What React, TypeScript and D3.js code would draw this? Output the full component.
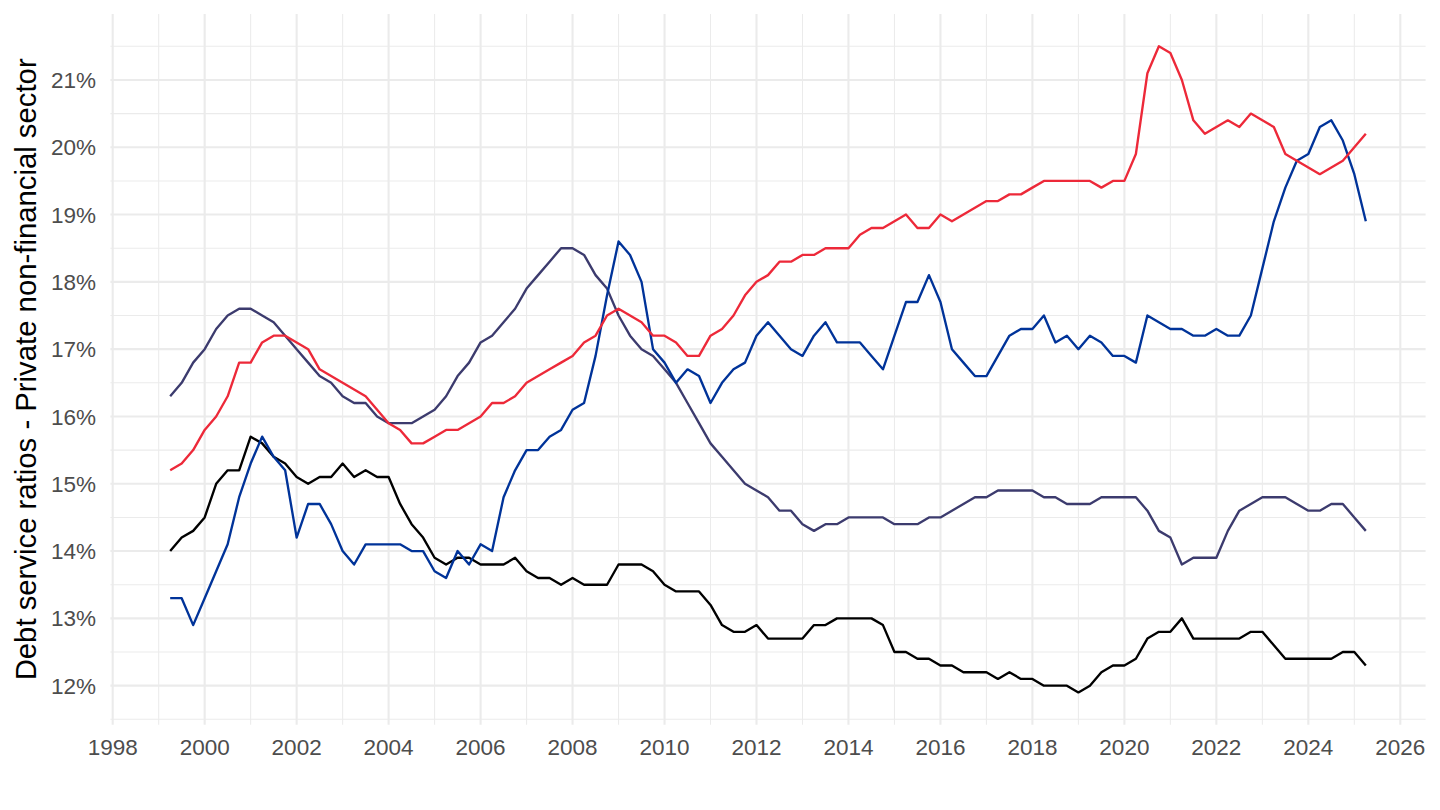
import * as d3 from "d3";
import type React from "react";

// quarterly observations, 1999Q1 .. 2025Q1 (plotted at end of quarter)
const firstQuarter = 1999.25;

const seriesRed = [
	15.2, 15.3, 15.5, 15.8, 16.0, 16.3, 16.8, 16.8, 17.1, 17.2, 17.2, 17.1, 17.0, 16.7, 16.6, 16.5, 16.4, 16.3, 16.1, 15.9,
	15.8, 15.6, 15.6, 15.7, 15.8, 15.8, 15.9, 16.0, 16.2, 16.2, 16.3, 16.5, 16.6, 16.7, 16.8, 16.9, 17.1, 17.2, 17.5, 17.6,
	17.5, 17.4, 17.2, 17.2, 17.1, 16.9, 16.9, 17.2, 17.3, 17.5, 17.8, 18.0, 18.1, 18.3, 18.3, 18.4, 18.4, 18.5, 18.5, 18.5,
	18.7, 18.8, 18.8, 18.9, 19.0, 18.8, 18.8, 19.0, 18.9, 19.0, 19.1, 19.2, 19.2, 19.3, 19.3, 19.4, 19.5, 19.5, 19.5, 19.5,
	19.5, 19.4, 19.5, 19.5, 19.9, 21.1, 21.5, 21.4, 21.0, 20.4, 20.2, 20.3, 20.4, 20.3, 20.5, 20.4, 20.3, 19.9, 19.8, 19.7,
	19.6, 19.7, 19.8, 20.0, 20.2,
];

const seriesBlue = [
	13.3, 13.3, 12.9, 13.3, 13.7, 14.1, 14.8, 15.3, 15.7, 15.4, 15.2, 14.2, 14.7, 14.7, 14.4, 14.0, 13.8, 14.1, 14.1, 14.1,
	14.1, 14.0, 14.0, 13.7, 13.6, 14.0, 13.8, 14.1, 14.0, 14.8, 15.2, 15.5, 15.5, 15.7, 15.8, 16.1, 16.2, 16.9, 17.8, 18.6,
	18.4, 18.0, 17.0, 16.8, 16.5, 16.7, 16.6, 16.2, 16.5, 16.7, 16.8, 17.2, 17.4, 17.2, 17.0, 16.9, 17.2, 17.4, 17.1, 17.1,
	17.1, 16.9, 16.7, 17.2, 17.7, 17.7, 18.1, 17.7, 17.0, 16.8, 16.6, 16.6, 16.9, 17.2, 17.3, 17.3, 17.5, 17.1, 17.2, 17.0,
	17.2, 17.1, 16.9, 16.9, 16.8, 17.5, 17.4, 17.3, 17.3, 17.2, 17.2, 17.3, 17.2, 17.2, 17.5, 18.2, 18.9, 19.4, 19.8, 19.9,
	20.3, 20.4, 20.1, 19.6, 18.9,
];

const seriesPurple = [
	16.3, 16.5, 16.8, 17.0, 17.3, 17.5, 17.6, 17.6, 17.5, 17.4, 17.2, 17.0, 16.8, 16.6, 16.5, 16.3, 16.2, 16.2, 16.0, 15.9,
	15.9, 15.9, 16.0, 16.1, 16.3, 16.6, 16.8, 17.1, 17.2, 17.4, 17.6, 17.9, 18.1, 18.3, 18.5, 18.5, 18.4, 18.1, 17.9, 17.5,
	17.2, 17.0, 16.9, 16.7, 16.5, 16.2, 15.9, 15.6, 15.4, 15.2, 15.0, 14.9, 14.8, 14.6, 14.6, 14.4, 14.3, 14.4, 14.4, 14.5,
	14.5, 14.5, 14.5, 14.4, 14.4, 14.4, 14.5, 14.5, 14.6, 14.7, 14.8, 14.8, 14.9, 14.9, 14.9, 14.9, 14.8, 14.8, 14.7, 14.7,
	14.7, 14.8, 14.8, 14.8, 14.8, 14.6, 14.3, 14.2, 13.8, 13.9, 13.9, 13.9, 14.3, 14.6, 14.7, 14.8, 14.8, 14.8, 14.7, 14.6,
	14.6, 14.7, 14.7, 14.5, 14.3,
];

const seriesBlack = [
	14.0, 14.2, 14.3, 14.5, 15.0, 15.2, 15.2, 15.7, 15.6, 15.4, 15.3, 15.1, 15.0, 15.1, 15.1, 15.3, 15.1, 15.2, 15.1, 15.1,
	14.7, 14.4, 14.2, 13.9, 13.8, 13.9, 13.9, 13.8, 13.8, 13.8, 13.9, 13.7, 13.6, 13.6, 13.5, 13.6, 13.5, 13.5, 13.5, 13.8,
	13.8, 13.8, 13.7, 13.5, 13.4, 13.4, 13.4, 13.2, 12.9, 12.8, 12.8, 12.9, 12.7, 12.7, 12.7, 12.7, 12.9, 12.9, 13.0, 13.0,
	13.0, 13.0, 12.9, 12.5, 12.5, 12.4, 12.4, 12.3, 12.3, 12.2, 12.2, 12.2, 12.1, 12.2, 12.1, 12.1, 12.0, 12.0, 12.0, 11.9,
	12.0, 12.2, 12.3, 12.3, 12.4, 12.7, 12.8, 12.8, 13.0, 12.7, 12.7, 12.7, 12.7, 12.7, 12.8, 12.8, 12.6, 12.4, 12.4, 12.4,
	12.4, 12.4, 12.5, 12.5, 12.3,
];

const xTicks = [1998, 2000, 2002, 2004, 2006, 2008, 2010, 2012, 2014, 2016, 2018, 2020, 2022, 2024, 2026];
const xMinor = [1999, 2001, 2003, 2005, 2007, 2009, 2011, 2013, 2015, 2017, 2019, 2021, 2023, 2025];
const yTicks = [12, 13, 14, 15, 16, 17, 18, 19, 20, 21];
const yMinor = [11.5, 12.5, 13.5, 14.5, 15.5, 16.5, 17.5, 18.5, 19.5, 20.5, 21.5];

const yTitle = "Debt service ratios - Private non-financial sector";

const lines = [
	{ values: seriesPurple, color: "#3C3B6E" },
	{ values: seriesBlack, color: "#000000" },
	{ values: seriesBlue, color: "#003399" },
	{ values: seriesRed, color: "#ED2939" },
];

const width = 1440;
const height = 810;
const font = "'Liberation Sans', Arial, sans-serif";

const App: React.FC = () => {
	const x = d3.scaleLinear().domain([1997.95, 2026.55]).range([110.4, 1425.6]);
	const y = d3.scaleLinear().domain([11.42, 21.98]).range([724.7, 14.0]);
	const [x0, x1] = x.range();
	const [y0, y1] = y.range();

	const line = d3
		.line<number>()
		.x((_, i) => x(firstQuarter + i * 0.25))
		.y((d) => y(d));

	return (
		<div style={{ position: "absolute", left: 0, top: 0 }}>
			<svg width={width} height={height} style={{ display: "block", background: "#fff" }}>
				<g stroke="#EBEBEB" fill="none">
					{yMinor.map((v) => (
						<line key={"ym" + v} x1={x0} x2={x1} y1={y(v)} y2={y(v)} strokeWidth={1.05} />
					))}
					{xMinor.map((v) => (
						<line key={"xm" + v} x1={x(v)} x2={x(v)} y1={y0} y2={y1} strokeWidth={1.05} />
					))}
					{yTicks.map((v) => (
						<line key={"y" + v} x1={x0} x2={x1} y1={y(v)} y2={y(v)} strokeWidth={2.1} />
					))}
					{xTicks.map((v) => (
						<line key={"x" + v} x1={x(v)} x2={x(v)} y1={y0} y2={y1} strokeWidth={2.1} />
					))}
				</g>

				<g fill="none" strokeWidth={2.35} strokeLinejoin="round">
					{lines.map((s) => (
						<path key={s.color} d={line(s.values) ?? ""} stroke={s.color} />
					))}
				</g>

				<g fontFamily={font} fontSize={22.5} fill="#4D4D4D">
					{yTicks.map((v) => (
						<text key={"yl" + v} x={96} y={y(v)} dy="0.36em" textAnchor="end">
							{v}%
						</text>
					))}
					{xTicks.map((v) => (
						<text key={"xl" + v} x={x(v)} y={755} textAnchor="middle">
							{v}
						</text>
					))}
				</g>

				<text
					transform={`translate(36,${(y0 + y1) / 2}) rotate(-90)`}
					textAnchor="middle"
					fontFamily={font}
					fontSize={29.3}
					fill="#000"
				>
					{yTitle}
				</text>
			</svg>
		</div>
	);
};

export default App;
